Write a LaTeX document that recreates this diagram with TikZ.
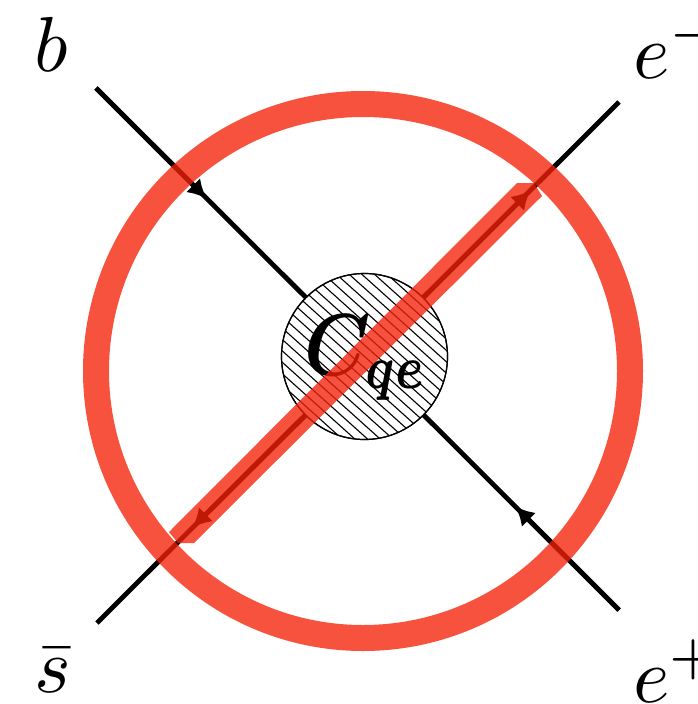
\documentclass[tikz,border=0pt]{standalone}
\usetikzlibrary{arrows.meta}
\definecolor{ringred}{RGB}{243,33,8}
\tikzset{
  x=1pt,y=-1pt,
  fermion/.style={line width=4.8pt,black},
  flowtip/.style={-{Latex[length=19pt,width=20pt]},line width=4.8pt,black,shorten >=-1pt},
  biglabel/.style={scale=7.8,inner sep=0pt,anchor=base west},
}
\begin{document}
\begin{tikzpicture}
\useasboundingbox (0,0) rectangle (697,704);
\clip (0,0) rectangle (697,704);
\coordinate (bEnd) at (96,88);
\coordinate (epEnd) at (619,610);
\coordinate (emEnd) at (619,102);
\coordinate (sEnd) at (97,623);
\coordinate (bTip) at (206,198);
\coordinate (epTip) at (516,507);
\coordinate (emTip) at (530,191);
\coordinate (sTip) at (193,527);
\coordinate (blobC) at (364.5,356.5);
% fermion lines
\draw[fermion] (bEnd) -- (epEnd);
\draw[fermion] (sEnd) -- (emEnd);
\draw[flowtip] (bEnd) -- (bTip);
\draw[flowtip] (epEnd) -- (epTip);
\draw[flowtip] (blobC) -- (emTip);
\draw[flowtip] (blobC) -- (sTip);
% blob
\node[circle,draw=black,line width=1.2pt,fill=white,minimum size=166pt,inner sep=0pt] (blob) at (blobC) {};
\begin{scope}
\clip (blobC) circle (82.5);
\foreach \k in {-13,...,13}{
  \draw[black,line width=1.1pt] ([shift={(-120,{\k*11.4-108})}]blobC) -- ([shift={(120,{\k*11.4+108})}]blobC);
}
\end{scope}
\node[circle,draw=black,line width=1.2pt,minimum size=166pt,inner sep=0pt] (blobRim) at (blobC) {};
% coupling
\node[inner sep=0pt,anchor=base west,xscale=7.5,yscale=8.8] (coupling) at (303,375) {{\boldmath$C_{\scalebox{.87}[1]{$\scriptstyle qe$}}$}};
% band and ring
\path[fill=ringred,opacity=.78] (517,183) -- (534,183) -- (542,196) -- (194,543) -- (178,543) -- (169,532) -- cycle;
\node[circle,draw=ringred,draw opacity=.78,line width=26pt,minimum size=534pt,inner sep=0pt] (ring) at (363,371) {};
% labels
\node[biglabel] (lb) at (33,71) {$b$};
\node[biglabel] (lem) at (632,78) {$e^-$};
\node[biglabel] (ls) at (33,692) {$\bar s$};
\node[biglabel] (lep) at (632,702) {$e^+$};
\end{tikzpicture}
\end{document}
